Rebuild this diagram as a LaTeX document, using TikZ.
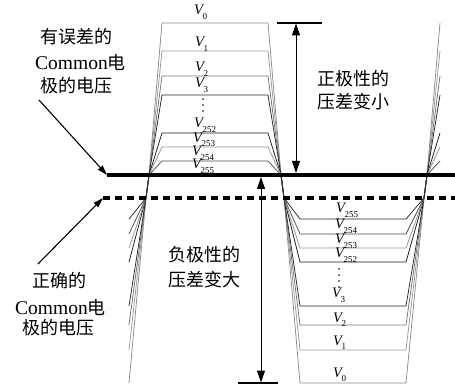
\documentclass[tikz,border=0pt]{standalone}
\usepackage{fontspec}
\setmainfont{Liberation Serif}
\newfontfamily\cjk{Noto Sans CJK SC}
\usetikzlibrary{arrows.meta}
\newcommand\vlab[1]{{\fontsize{14.5}{15}\selectfont\itshape V}\hspace{-0.5pt}\raisebox{-4.5pt}{\fontsize{9}{10}\selectfont #1}}
\newcommand\ctext[1]{{\fontsize{18}{20}\selectfont\cjk #1}}
\newcommand\ltext[1]{{\fontsize{19.5}{20}\selectfont #1}}
\tikzset{
  wave/.style={line width=0.75pt},
  label/.style={inner sep=0pt, anchor=base west},
  txt/.style={inner sep=0pt, anchor=west},
  dimarrow/.style={line width=1pt, {Triangle[width=8pt,length=12pt]}-{Triangle[width=8pt,length=12pt]}},
  ptr/.style={line width=1.1pt, -{Triangle[width=6pt,length=10pt]}},
  bar/.style={line width=1.2pt},
  dotmark/.style={circle, fill=black, inner sep=0pt, minimum size=1.6pt}
}
\begin{document}
\begin{tikzpicture}[x=1pt,y=-1pt]
\useasboundingbox (0,0) rectangle (455,387);
% waveforms
\foreach \yt/\yb/\c in {23/383/gray!90, 51/350/gray!80, 76/325/gray!90!black, 95/306/black!85, 133/262/black!90, 147/248/gray!85, 161/234/gray!60!black, 174/219/black!85}
  \draw[wave, \c] (129,\yb) -- (146,198) -- (149,175) -- (162,\yt) -- (268,\yt) -- (281,175) -- (284,198) -- (300,\yb) -- (406,\yb) -- (424,198) -- (427,175) -- (440,\yt);
% common lines
\coordinate (sL) at (107,175);
\coordinate (sR) at (455,175);
\coordinate (dL) at (103,198);
\coordinate (dR) at (455,198);
\draw[line width=3.5pt] (sL) -- (sR);
\draw[line width=3.5pt, dash pattern=on 7pt off 5pt] (dL) -- (dR);
% top labels
\node[label] at (194,15) {\vlab{0}};
\node[label] at (195,47) {\vlab{1}};
\node[label] at (195,72) {\vlab{2}};
\node[label] at (195,88) {\vlab{3}};
\node[label] at (194,128) {\vlab{252}};
\node[label] at (193,142.5) {\vlab{253}};
\node[label] at (192,156) {\vlab{254}};
\node[label] at (192,169) {\vlab{255}};
\foreach \y in {99,105,111} \node[dotmark] at (203,\y) {};
% bottom labels
\node[label] at (336,213) {\vlab{255}};
\node[label] at (335,229) {\vlab{254}};
\node[label] at (335,244) {\vlab{253}};
\node[label] at (335,258) {\vlab{252}};
\foreach \y in {269,275,281,287} \node[dotmark] at (339,\y) {};
\node[label] at (332,298) {\vlab{3}};
\node[label] at (333,322) {\vlab{2}};
\node[label] at (333,345) {\vlab{1}};
\node[label] at (333,377) {\vlab{0}};
% dimension arrows
\coordinate (tb1) at (277,23);
\coordinate (tb2) at (322,23);
\draw[bar] (tb1) -- (tb2);
\coordinate (ta1) at (296,23.5);
\coordinate (ta2) at (296,173);
\draw[dimarrow] (ta1) -- (ta2);
\coordinate (bb1) at (238,383);
\coordinate (bb2) at (278,383);
\draw[bar] (bb1) -- (bb2);
\coordinate (ba1) at (261,177);
\coordinate (ba2) at (261,382.5);
\draw[dimarrow] (ba1) -- (ba2);
% texts
\node[txt] (t1) at (40,37) {\ctext{有误差的}};
\node[txt] (t2) at (35,63) {\ltext{Common}\ctext{电}};
\node[txt] (t3) at (40,86) {\ctext{极的电压}};
\node[txt] (b1) at (32,281) {\ctext{正确的}};
\node[txt] (b2) at (15,308) {\ltext{Common}\ctext{电}};
\node[txt] (b3) at (22,328) {\ctext{极的电压}};
\node[txt] (r1) at (317,79) {\ctext{正极性的}};
\node[txt] (r2) at (317,102) {\ctext{压差变小}};
\node[txt] (m1) at (168,255) {\ctext{负极性的}};
\node[txt] (m2) at (168,280) {\ctext{压差变大}};
% pointers
\coordinate (p1s) at (39,100);
\coordinate (p2s) at (38,264);
\draw[ptr] (p1s) -- (sL);
\draw[ptr] (p2s) -- (dL);
\end{tikzpicture}
\end{document}
